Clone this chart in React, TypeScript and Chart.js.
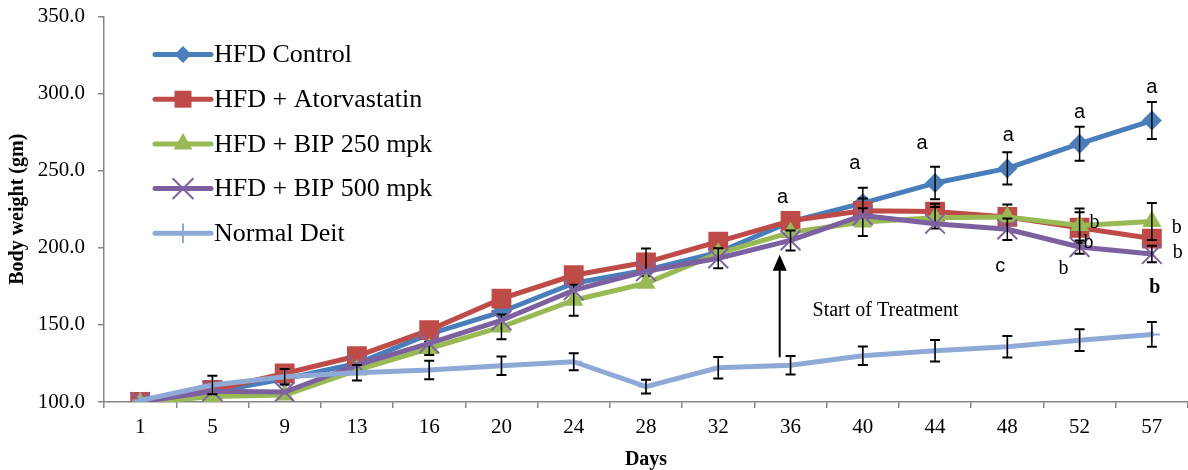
import React, { useEffect, useRef } from 'react';
import { Chart, registerables } from 'chart.js';

Chart.register(...registerables);

// ---------- data ----------
const days = ['1', '5', '9', '13', '16', '20', '24', '28', '32', '36', '40', '44', '48', '52', '57'];

const hfdControl = [100, 106.5, 115, 125, 144, 158.5, 177, 185.5, 197, 217, 229, 242, 251.5, 267.5, 282.5];
const hfdAtorvastatin = [100, 107.8, 118.5, 129.8, 146.6, 167, 182.2, 190.6, 204, 217.5, 224, 223.5, 220, 213, 206];
const hfdBip250 = [99.5, 103.5, 104.5, 120.7, 134.7, 148.7, 166, 177, 196.4, 210, 216.7, 219.5, 220, 214.5, 217];
const hfdBip500 = [100, 107, 106.5, 124, 138, 153, 172.5, 184.8, 193.2, 204.8, 221, 215.6, 212, 200.5, 196];
const normalDiet = [101, 111, 116.4, 119, 120.7, 123.5, 126.1, 110, 122.2, 123.9, 130, 133.2, 135.8, 140.1, 143.8];

const errControl = [0, 0, 0, 0, 0, 0, 0, 0, 0, 0, 10, 10.5, 10.5, 11, 12];
const errAtorvastatin = [0, 0, 0, 0, 0, 0, 0, 9, 0, 0, 8, 5, 8, 10, 0];
const errBip250 = [0, 0, 0, 0, 4.3, 8, 10, 0, 0, 0, 9, 7, 0, 11, 12];
const errBip500 = [0, 0, 0, 0, 0, 0, 0, 0, 6.5, 6.5, 0, 0, 7, 4.3, 5.4];
const errNormal = [0, 6, 5, 5, 6, 6, 5.5, 4.5, 7, 6, 6, 7, 7, 7, 8];

const seriesNames = ['HFD Control', 'HFD + Atorvastatin', 'HFD + BIP 250 mpk', 'HFD + BIP 500 mpk', 'Normal Deit'];

const yTicks = [100, 150, 200, 250, 300, 350];

// significance letters: category index, value level, pixel nudge
const letterNotes = [
  { text: 'a', idx: 9, value: 232.6, dx: -8, family: 'sans', bold: false },
  { text: 'a', idx: 10, value: 254.6, dx: -8, family: 'sans', bold: false },
  { text: 'a', idx: 11, value: 267.6, dx: -13, family: 'sans', bold: false },
  { text: 'a', idx: 12, value: 272.8, dx: 1, family: 'sans', bold: false },
  { text: 'a', idx: 13, value: 287.7, dx: 0, family: 'sans', bold: false },
  { text: 'a', idx: 14, value: 303.9, dx: 0, family: 'sans', bold: false },
  { text: 'c', idx: 12, value: 188, dx: -7, family: 'sans', bold: false },
  { text: 'b', idx: 13, value: 216.5, dx: 15, family: 'serif', bold: false },
  { text: 'b', idx: 13, value: 203.5, dx: 9, family: 'serif', bold: false },
  { text: 'b', idx: 13, value: 186.7, dx: -16, family: 'serif', bold: false },
  { text: 'b', idx: 14, value: 213.2, dx: 25, family: 'serif', bold: false },
  { text: 'b', idx: 14, value: 197, dx: 26, family: 'serif', bold: false },
  { text: 'b', idx: 14, value: 173.8, dx: 3, family: 'serif', bold: true },
];

const treatmentNote = { text: 'Start of Treatment', idx: 9, value: 158.9, dx: 22 };
const treatmentArrow = { idxFrom: 8, frac: 0.85, fromValue: 129, toValue: 195.5 };

// ---------- styles ----------
const SERIF = '"Liberation Serif", "Times New Roman", serif';
const SANS = '"Liberation Sans", Arial, sans-serif';

const styles = [
  { line: '#4A7EBB', point: '#4A7EBB', shape: 'diamond', radius: 10, legendRadius: 8.5 },
  { line: '#BE4B48', point: '#BE4B48', shape: 'square', radius: 14, legendRadius: 12 },
  { line: '#98B954', point: '#98B954', shape: 'triangle', radius: 11, legendRadius: 11 },
  { line: '#7D60A0', point: '#8064A2', shape: 'x', radius: 14, legendRadius: 14 },
  { line: '#8EA9D6', point: '#8EA9D6', shape: 'plus', radius: 8, legendRadius: 9 },
];

const cjsStyle: Record<string, string> = {
  diamond: 'rectRot',
  square: 'rect',
  triangle: 'triangle',
  x: 'crossRot',
  plus: 'cross',
};

function drawMarker(ctx: CanvasRenderingContext2D, shape: string, x: number, y: number, r: number, color: string) {
  ctx.save();
  ctx.fillStyle = color;
  ctx.strokeStyle = color;
  ctx.lineWidth = 2;
  ctx.beginPath();
  if (shape === 'diamond') {
    ctx.moveTo(x - r, y);
    ctx.lineTo(x, y - r);
    ctx.lineTo(x + r, y);
    ctx.lineTo(x, y + r);
    ctx.closePath();
    ctx.fill();
  } else if (shape === 'square') {
    const s = r * Math.SQRT1_2;
    ctx.rect(x - s, y - s, 2 * s, 2 * s);
    ctx.fill();
  } else if (shape === 'triangle') {
    for (let k = 0; k < 3; k++) {
      const a = (k * 2 * Math.PI) / 3;
      const px = x + Math.sin(a) * r;
      const py = y - Math.cos(a) * r;
      if (k === 0) ctx.moveTo(px, py);
      else ctx.lineTo(px, py);
    }
    ctx.closePath();
    ctx.fill();
  } else if (shape === 'x') {
    const s = r * Math.SQRT1_2;
    ctx.moveTo(x - s, y - s);
    ctx.lineTo(x + s, y + s);
    ctx.moveTo(x + s, y - s);
    ctx.lineTo(x - s, y + s);
    ctx.stroke();
  } else {
    ctx.moveTo(x, y - r);
    ctx.lineTo(x, y + r);
    ctx.moveTo(x - r, y);
    ctx.lineTo(x + r, y);
    ctx.stroke();
  }
  ctx.restore();
}

const errorSets = [errControl, errAtorvastatin, errBip250, errBip500, errNormal];

const decorPlugin = {
  id: 'decor',
  afterDatasetDraw(chart: any, args: any) {
    const ctx: CanvasRenderingContext2D = chart.ctx;
    const yScale = chart.scales.y;
    const ds = chart.data.datasets[args.index];
    const errs = errorSets[args.index];
    const meta = args.meta;
    ctx.save();
    ctx.strokeStyle = '#000000';
    ctx.lineCap = 'butt';
    for (let i = 0; i < errs.length; i++) {
      const e = errs[i];
      if (!e) continue;
      const v = ds.data[i] as number;
      const x = meta.data[i].x;
      const yt = yScale.getPixelForValue(v + e);
      const yb = yScale.getPixelForValue(v - e);
      ctx.lineWidth = 1.5;
      ctx.beginPath();
      ctx.moveTo(x, yt);
      ctx.lineTo(x, yb);
      ctx.stroke();
      ctx.lineWidth = 2;
      ctx.beginPath();
      ctx.moveTo(x - 5, yt);
      ctx.lineTo(x + 5, yt);
      ctx.moveTo(x - 5, yb);
      ctx.lineTo(x + 5, yb);
      ctx.stroke();
    }
    ctx.restore();
  },
  afterDraw(chart: any) {
    const ctx: CanvasRenderingContext2D = chart.ctx;
    const xScale = chart.scales.x;
    const yScale = chart.scales.y;
    ctx.save();

    // letters
    ctx.fillStyle = '#000000';
    ctx.textAlign = 'center';
    ctx.textBaseline = 'middle';
    letterNotes.forEach((n) => {
      ctx.font = `${n.bold ? 'bold ' : ''}20px ${n.family === 'sans' ? SANS : SERIF}`;
      ctx.fillText(n.text, xScale.getPixelForValue(n.idx) + n.dx, yScale.getPixelForValue(n.value));
    });

    // treatment arrow
    const x0 = xScale.getPixelForValue(treatmentArrow.idxFrom);
    const x1 = xScale.getPixelForValue(treatmentArrow.idxFrom + 1);
    const ax = x0 + (x1 - x0) * treatmentArrow.frac;
    const yFrom = yScale.getPixelForValue(treatmentArrow.fromValue);
    const yTo = yScale.getPixelForValue(treatmentArrow.toValue);
    ctx.strokeStyle = '#000000';
    ctx.lineWidth = 2;
    ctx.beginPath();
    ctx.moveTo(ax, yFrom);
    ctx.lineTo(ax, yTo + 12);
    ctx.stroke();
    ctx.beginPath();
    ctx.moveTo(ax, yTo);
    ctx.lineTo(ax - 7, yTo + 16);
    ctx.lineTo(ax + 7, yTo + 16);
    ctx.closePath();
    ctx.fill();

    ctx.textAlign = 'left';
    ctx.font = `20px ${SERIF}`;
    ctx.fillText(
      treatmentNote.text,
      xScale.getPixelForValue(treatmentNote.idx) + treatmentNote.dx,
      yScale.getPixelForValue(treatmentNote.value)
    );

    // legend
    const lx0 = 155;
    const lx1 = 211;
    const ly0 = 54.5;
    const lstep = 44.7;
    ctx.font = `26px ${SERIF}`;
    chart.data.datasets.forEach((ds: any, i: number) => {
      const st = styles[i];
      const y = ly0 + i * lstep;
      ctx.strokeStyle = st.line;
      ctx.lineWidth = 5;
      ctx.lineCap = 'round';
      ctx.beginPath();
      ctx.moveTo(lx0, y);
      ctx.lineTo(lx1, y);
      ctx.stroke();
      drawMarker(ctx, st.shape, (lx0 + lx1) / 2, y, st.legendRadius, st.point);
      ctx.fillStyle = '#000000';
      ctx.textAlign = 'left';
      ctx.textBaseline = 'middle';
      ctx.fillText(ds.label, lx1 + 3, y + 1);
    });
    ctx.restore();
  },
};

export default function App() {
  const canvasRef = useRef<HTMLCanvasElement | null>(null);

  useEffect(() => {
    const canvas = canvasRef.current;
    if (!canvas) return;
    const allSeries = [hfdControl, hfdAtorvastatin, hfdBip250, hfdBip500, normalDiet];
    const datasets = allSeries.map((data, i) => {
      const st = styles[i];
      return {
        label: seriesNames[i],
        data,
        borderColor: st.line,
        backgroundColor: st.point,
        borderWidth: 5,
        borderJoinStyle: 'round' as const,
        borderCapStyle: 'round' as const,
        tension: 0,
        pointStyle: cjsStyle[st.shape],
        pointRadius: st.radius,
        pointHoverRadius: st.radius,
        pointBackgroundColor: st.point,
        pointBorderColor: st.point,
        pointBorderWidth: st.shape === 'x' || st.shape === 'plus' ? 2 : 0,
        order: 5 - i,
      };
    });

    const chart = new Chart(canvas, {
      type: 'line',
      data: { labels: days, datasets },
      options: {
        animation: false,
        responsive: true,
        maintainAspectRatio: false,
        layout: { autoPadding: false, padding: { top: 16.5, right: 0, bottom: 0, left: 0 } },
        plugins: {
          legend: { display: false },
          tooltip: { enabled: false },
        },
        scales: {
          x: {
            type: 'category',
            offset: true,
            afterFit: (scale: any) => {
              scale.height = 68;
            },
            border: { display: true, color: '#868686', width: 1.5 },
            grid: {
              display: true,
              drawOnChartArea: false,
              drawTicks: true,
              tickLength: 6,
              offset: true,
              color: '#868686',
              lineWidth: 1.5,
            },
            ticks: {
              color: '#000000',
              font: { family: SERIF, size: 21 },
              padding: 7,
              maxRotation: 0,
              autoSkip: false,
            },
            title: {
              display: true,
              text: 'Days',
              color: '#000000',
              font: { family: SERIF, size: 20, weight: 'bold', lineHeight: 1 },
              padding: { top: 0, bottom: 0 },
            },
          },
          y: {
            min: 100,
            max: 350,
            afterFit: (scale: any) => {
              scale.width = 104;
              scale.paddingTop = 0;
              scale.paddingBottom = 0;
            },
            afterBuildTicks: (scale: any) => {
              scale.ticks = yTicks.map((v) => ({ value: v }));
            },
            border: { display: true, color: '#868686', width: 1.5 },
            grid: {
              display: true,
              drawOnChartArea: false,
              drawTicks: true,
              tickLength: 6,
              color: '#868686',
              lineWidth: 1.5,
            },
            ticks: {
              color: '#000000',
              font: { family: SERIF, size: 21 },
              padding: 13,
              callback: (v: any) => Number(v).toFixed(1),
            },
            title: {
              display: true,
              text: 'Body weight (gm)',
              color: '#000000',
              font: { family: SERIF, size: 20, weight: 'bold', lineHeight: 1.2 },
              padding: { top: 6, bottom: 0 },
            },
          },
        },
      },
      plugins: [decorPlugin],
    });

    return () => {
      chart.destroy();
    };
  }, []);

  return (
    <div style={{ position: 'absolute', left: 0, top: 0, width: 1188, height: 470, background: '#ffffff' }}>
      <canvas ref={canvasRef} />
    </div>
  );
}
